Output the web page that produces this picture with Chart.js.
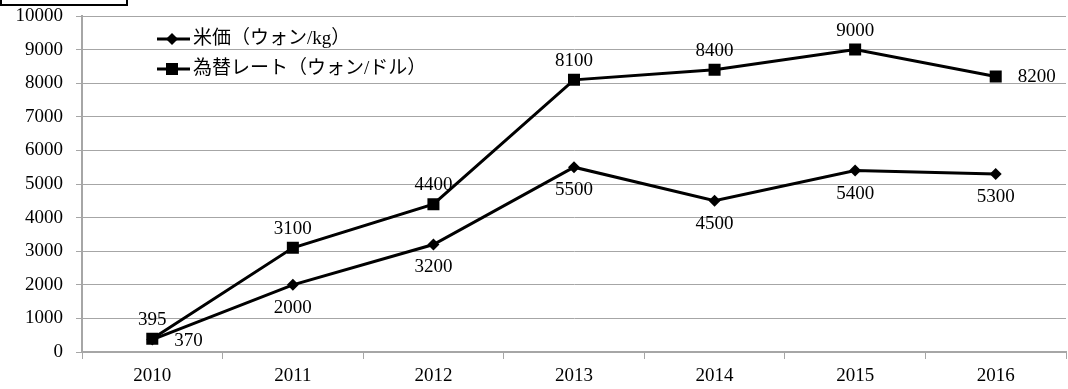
<!DOCTYPE html>
<html>
<head>
<meta charset="utf-8">
<script src="https://cdn.jsdelivr.net/npm/chart.js@4"></script>
<style>
  html, body { margin: 0; padding: 0; background: #fff; }
  #wrap { width: 1068px; height: 389px; }
</style>
</head>
<body>
<div id="wrap"><canvas id="myChart" width="1068" height="389"></canvas></div>
<script>
"use strict";
const years = ["2010", "2011", "2012", "2013", "2014", "2015", "2016"];
const ricePrice = [370, 2000, 3200, 5500, 4500, 5400, 5300];
const exchangeRate = [395, 3100, 4400, 8100, 8400, 9000, 8200];
const riceLabelPos = ["right", "below", "below", "below", "below", "below", "below"];
const rateLabelPos = ["above", "above", "above", "above", "above", "above", "right"];
const yTicks = [0, 1000, 2000, 3000, 4000, 5000, 6000, 7000, 8000, 9000, 10000];

const FONT = '"Liberation Serif", "Noto Sans CJK JP", serif';

const extras = {
  id: "extras",
  afterDatasetsDraw(chart) {
    const ctx = chart.ctx;
    ctx.save();
    ctx.fillStyle = "#000";
    ctx.font = "19px " + FONT;
    ctx.textBaseline = "middle";
    const posLists = [riceLabelPos, rateLabelPos];
    chart.data.datasets.forEach((ds, di) => {
      const meta = chart.getDatasetMeta(di);
      meta.data.forEach((pt, i) => {
        const pos = posLists[di][i];
        const txt = String(ds.data[i]);
        if (pos === "above") {
          ctx.textAlign = "center";
          ctx.fillText(txt, pt.x, pt.y - 19);
        } else if (pos === "below") {
          ctx.textAlign = "center";
          ctx.fillText(txt, pt.x, pt.y + 23);
        } else {
          ctx.textAlign = "left";
          ctx.fillText(txt, pt.x + 22, pt.y + 1);
        }
      });
    });

    // legend
    const rows = [39, 69];
    chart.data.datasets.forEach((ds, di) => {
      const y = rows[di];
      ctx.strokeStyle = "#000";
      ctx.lineWidth = 3;
      ctx.beginPath();
      ctx.moveTo(157, y);
      ctx.lineTo(190, y);
      ctx.stroke();
      ctx.beginPath();
      if (di === 0) {
        ctx.moveTo(172, y - 6);
        ctx.lineTo(178, y);
        ctx.lineTo(172, y + 6);
        ctx.lineTo(166, y);
        ctx.closePath();
      } else {
        ctx.rect(166, y - 6, 12, 12);
      }
      ctx.fill();
      ctx.textAlign = "left";
      ctx.font = "19px " + FONT;
      ctx.fillText(ds.label, 193, y);
    });

    // cut-off box at the top left
    ctx.lineWidth = 2;
    ctx.strokeRect(1, -5, 126, 10);
    ctx.restore();
  }
};

const data = {
  labels: years,
  datasets: [
    {
      label: "米価（ウォン/kg）",
      data: ricePrice,
      borderColor: "#000",
      backgroundColor: "#000",
      borderWidth: 3,
      pointStyle: "rectRot",
      pointRadius: 6,
      pointBorderWidth: 0,
      tension: 0,
    },
    {
      label: "為替レート（ウォン/ドル）",
      data: exchangeRate,
      borderColor: "#000",
      backgroundColor: "#000",
      borderWidth: 3,
      pointStyle: "rect",
      pointRadius: 8.5,
      pointBorderWidth: 0,
      tension: 0,
    },
  ],
};

const config = {
  type: "line",
  data: data,
  plugins: [extras],
  options: {
    responsive: false,
    animation: false,
    layout: {
      autoPadding: false,
      padding: { top: 16, right: 2, left: 0, bottom: 0 },
    },
    plugins: {
      legend: { display: false },
      tooltip: { enabled: false },
    },
    scales: {
      x: {
        offset: true,
        afterFit: (axis) => { axis.height = 37; },
        grid: {
          offset: true,
          drawOnChartArea: false,
          color: "#a6a6a6",
          tickLength: 7,
        },
        border: { color: "#a6a6a6", width: 2 },
        ticks: {
          color: "#000",
          maxRotation: 0,
          font: { family: FONT, size: 19 },
          padding: 6,
        },
      },
      y: {
        min: 0,
        max: 10000,
        afterBuildTicks: (axis) => {
          axis.ticks = yTicks.map((v) => ({ value: v }));
        },
        afterFit: (axis) => {
          axis.width = 82;
          axis.paddingTop = 0;
          axis.paddingBottom = 0;
        },
        grid: {
          color: "#a6a6a6",
          tickLength: 6,
        },
        border: { color: "#a6a6a6", width: 2 },
        ticks: {
          color: "#000",
          font: { family: FONT, size: 19 },
          padding: 13,
          callback: (v) => String(v),
        },
      },
    },
  },
};

const myChart = new Chart(document.getElementById("myChart"), config);
</script>
</body>
</html>
